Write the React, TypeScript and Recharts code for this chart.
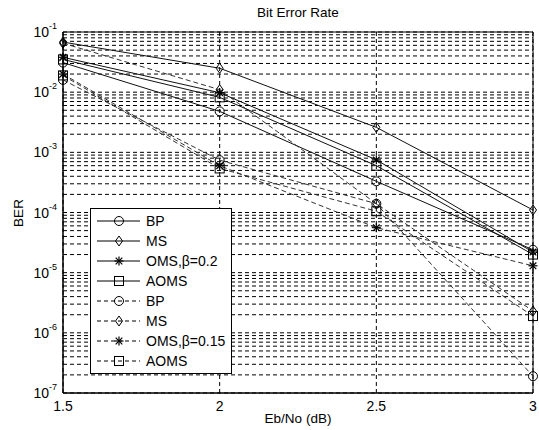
import React from 'react';
import { LineChart, Line, XAxis, YAxis, CartesianGrid, Legend, ReferenceArea } from 'recharts';

const FONT = '"Liberation Sans", Arial, sans-serif';

// Eb/No (dB)
const ebNo = [1.5, 2, 2.5, 3];

// solid curves
const berBP = [0.031, 0.0048, 3.3e-4, 2.4e-5];
const berMS = [0.068, 0.025, 2.6e-3, 1.1e-4];
const berOMS02 = [0.038, 0.0098, 7.5e-4, 2.2e-5];
const berAOMS = [0.035, 0.0082, 6.0e-4, 2.0e-5];

// dashed curves
const berBPd = [0.016, 7.4e-4, 1.4e-4, 1.9e-7];
const berMSd = [0.065, 0.011, 1.4e-4, 2.3e-6];
const berOMS015 = [0.02, 6.0e-4, 5.6e-5, 1.3e-5];
const berAOMSd = [0.019, 5.4e-4, 1.05e-4, 1.9e-6];

const xTicks = [1.5, 2, 2.5, 3];
const decadeExps = [-7, -6, -5, -4, -3, -2, -1];
const minorMults = [1, 2, 3, 4, 5, 6, 7, 8, 9];

type Shape = 'circle' | 'diamond' | 'star' | 'square';

const series: { key: string; name: string; values: number[]; shape: Shape; dashed: boolean }[] = [
  { key: 'bp', name: 'BP', values: berBP, shape: 'circle', dashed: false },
  { key: 'ms', name: 'MS', values: berMS, shape: 'diamond', dashed: false },
  { key: 'oms02', name: 'OMS,β=0.2', values: berOMS02, shape: 'star', dashed: false },
  { key: 'aoms', name: 'AOMS', values: berAOMS, shape: 'square', dashed: false },
  { key: 'bpd', name: 'BP', values: berBPd, shape: 'circle', dashed: true },
  { key: 'msd', name: 'MS', values: berMSd, shape: 'diamond', dashed: true },
  { key: 'oms015', name: 'OMS,β=0.15', values: berOMS015, shape: 'star', dashed: true },
  { key: 'aomsd', name: 'AOMS', values: berAOMSd, shape: 'square', dashed: true },
];

const data = ebNo.map((x, i) => {
  const row: Record<string, number> = { x };
  series.forEach((s) => {
    row[s.key] = s.values[i];
  });
  return row;
});

const yTicks: number[] = [];
decadeExps.forEach((e) => {
  if (e === -1) {
    yTicks.push(Math.pow(10, e));
  } else {
    minorMults.forEach((m) => yTicks.push(m * Math.pow(10, e)));
  }
});

function Marker({ shape, cx, cy, color }: { shape: Shape; cx: number; cy: number; color: string }) {
  if (cx == null || cy == null) return null;
  if (shape === 'circle') {
    return <circle cx={cx} cy={cy} r={4.5} fill="none" stroke={color} strokeWidth={1} />;
  }
  if (shape === 'diamond') {
    return (
      <path
        d={`M${cx},${cy - 5}L${cx + 3.5},${cy}L${cx},${cy + 5}L${cx - 3.5},${cy}Z`}
        fill="none"
        stroke={color}
        strokeWidth={1}
      />
    );
  }
  if (shape === 'square') {
    return <rect x={cx - 4.5} y={cy - 4.5} width={9} height={9} fill="none" stroke={color} strokeWidth={1} />;
  }
  return (
    <g stroke={color} strokeWidth={1.2}>
      <line x1={cx - 4.5} y1={cy} x2={cx + 4.5} y2={cy} />
      <line x1={cx} y1={cy - 4.5} x2={cx} y2={cy + 4.5} />
      <line x1={cx - 3.3} y1={cy - 3.3} x2={cx + 3.3} y2={cy + 3.3} />
      <line x1={cx - 3.3} y1={cy + 3.3} x2={cx + 3.3} y2={cy - 3.3} />
    </g>
  );
}

function YTick(props: any) {
  const { x, y, payload } = props;
  const lg = Math.log10(payload.value);
  if (Math.abs(lg - Math.round(lg)) > 1e-6) return <g />;
  return (
    <text x={x - 6} y={y + 5} textAnchor="end" fontFamily={FONT} fontSize={14} fill="#000">
      <tspan>10</tspan>
      <tspan dy={-8} fontSize={9}>
        {Math.round(lg)}
      </tspan>
    </text>
  );
}

function XTick(props: any) {
  const { x, y, payload } = props;
  return (
    <text x={x} y={y + 18} textAnchor="middle" fontFamily={FONT} fontSize={14} fill="#000">
      {payload.value}
    </text>
  );
}

function LegendBox() {
  return (
    <div
      style={{
        width: 140,
        height: 162,
        border: '1px solid #000',
        background: '#fff',
        paddingTop: 2,
        boxSizing: 'content-box',
        fontFamily: FONT,
        fontSize: 14,
      }}
    >
      {series.map((s) => (
        <div key={s.key} style={{ height: 20, display: 'flex', alignItems: 'center' }}>
          <svg width={54} height={20} style={{ display: 'block' }}>
            <line
              x1={6}
              y1={10}
              x2={49}
              y2={10}
              stroke="#000"
              strokeWidth={1}
              strokeDasharray={s.dashed ? '4 3' : undefined}
            />
            <Marker shape={s.shape} cx={28} cy={10} color="#000" />
          </svg>
          <span style={{ color: '#000', marginLeft: 1 }}>{s.name}</span>
        </div>
      ))}
    </div>
  );
}

export default function App() {
  return (
    <div style={{ position: 'absolute', left: 0, top: 0, width: 539, height: 430, background: '#fff' }}>
      <div
        style={{
          position: 'absolute',
          left: 0,
          width: 596,
          top: 5,
          textAlign: 'center',
          fontFamily: FONT,
          fontSize: 13.5,
        }}
      >
        Bit Error Rate
      </div>
      <LineChart width={539} height={430} data={data} margin={{ top: 32, right: 6, bottom: 0, left: 0 }}>
        <CartesianGrid stroke="#000" strokeDasharray="4 3" strokeWidth={1} />
        <XAxis
          dataKey="x"
          type="number"
          domain={[1.5, 3]}
          ticks={xTicks}
          height={37}
          tickLine={false}
          tickSize={0}
          tickMargin={0}
          tick={<XTick />}
          axisLine={{ stroke: '#000' }}
          interval={0}
        />
        <YAxis
          scale="log"
          domain={[1e-7, 1e-1]}
          allowDataOverflow
          ticks={yTicks}
          width={63}
          tickLine={false}
          tickSize={0}
          tickMargin={0}
          tick={<YTick />}
          axisLine={{ stroke: '#000' }}
          interval={0}
        />
        <ReferenceArea x1={1.5} x2={3} y1={1e-7} y2={1e-1} fill="none" stroke="#000" strokeWidth={1} ifOverflow="visible" />
        {series.map((s) => (
          <Line
            key={s.key}
            type="linear"
            dataKey={s.key}
            name={s.name}
            stroke={s.dashed ? '#333' : '#111'}
            strokeWidth={1}
            strokeDasharray={s.dashed ? '5 3' : undefined}
            dot={(p: any) => <Marker key={`${s.key}-${p.index}`} shape={s.shape} cx={p.cx} cy={p.cy} color="#000" />}
            activeDot={false}
            isAnimationActive={false}
          />
        ))}
        <Legend
          layout="vertical"
          align="center"
          verticalAlign="middle"
          wrapperStyle={{ left: 90, top: 208, width: 142 }}
          content={() => <LegendBox />}
        />
      </LineChart>
      <div
        style={{
          position: 'absolute',
          left: 0,
          width: 596,
          top: 411,
          textAlign: 'center',
          fontFamily: FONT,
          fontSize: 13.5,
        }}
      >
        Eb/No (dB)
      </div>
      <div
        style={{
          position: 'absolute',
          left: 18,
          top: 213,
          transform: 'translate(-50%, -50%) rotate(-90deg)',
          fontFamily: FONT,
          fontSize: 13.5,
          whiteSpace: 'nowrap',
        }}
      >
        BER
      </div>
    </div>
  );
}
